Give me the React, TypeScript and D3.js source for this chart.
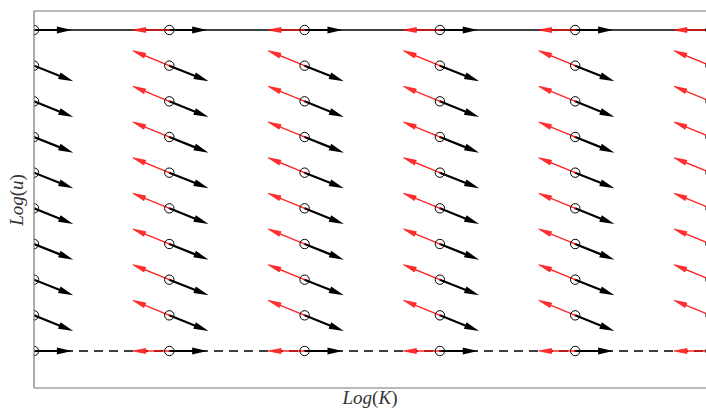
import { useMemo } from "react";
import * as d3 from "d3";

// grid of sample points (log K across, log u up)
const logK = [0, 1, 2, 3, 4, 5];
const logU = [0, 1, 2, 3, 4, 5, 6, 7, 8, 9];

// forward (black) and backward (red) vectors per row, in data units
const fwdU = [0.28, 0.29, 0.29, 0.29, 0.29, 0.29, 0.29, 0.29, 0.29, 0.28];
const fwdV = [0, -0.44, -0.44, -0.44, -0.44, -0.44, -0.44, -0.44, -0.44, 0];
const backU = [-0.27, -0.27, -0.27, -0.27, -0.27, -0.27, -0.27, -0.27, -0.27, -0.27];
const backV = [0, 0.42, 0.42, 0.42, 0.42, 0.42, 0.42, 0.42, 0.42, 0];

const W = 706;
const H = 410;
const margin = { top: 11, right: 0, bottom: 22, left: 34 };

function arrowPath(x0: number, y0: number, x1: number, y1: number, sw: number, hl: number, hw: number) {
  const dx = x1 - x0;
  const dy = y1 - y0;
  const len = Math.sqrt(dx * dx + dy * dy);
  const ux = dx / len;
  const uy = dy / len;
  const px = -uy;
  const py = ux;
  const bx = x1 - ux * hl;
  const by = y1 - uy * hl;
  const pts = [
    [x0 + px * sw / 2, y0 + py * sw / 2],
    [bx + px * sw / 2, by + py * sw / 2],
    [bx + px * hw / 2, by + py * hw / 2],
    [x1, y1],
    [bx - px * hw / 2, by - py * hw / 2],
    [bx - px * sw / 2, by - py * sw / 2],
    [x0 - px * sw / 2, y0 - py * sw / 2],
  ];
  return "M" + pts.map((p) => p[0].toFixed(2) + "," + p[1].toFixed(2)).join("L") + "Z";
}

export default function App() {
  const x = useMemo(() => d3.scaleLinear().domain([0, 5]).range([34, 710.5]), []);
  const y = useMemo(() => d3.scaleLinear().domain([0, 9]).range([351, 30]), []);

  const points = logK.flatMap((k) => logU.map((u, i) => ({ k, u, i })));
  const top = logU[logU.length - 1];
  const bottom = logU[0];

  const serif = "'Liberation Serif', 'DejaVu Serif', serif";

  return (
    <div style={{ position: "fixed", left: 0, top: 0 }}>
      <svg width={W} height={H} style={{ display: "block", background: "#fff" }}>
        <defs>
          <clipPath id="clip">
            <rect x={margin.left} y={margin.top} width={W - margin.left} height={H - margin.top - margin.bottom} />
          </clipPath>
        </defs>
        <g clipPath="url(#clip)">
          {/* trajectories along the edges */}
          <line x1={x(0)} x2={W} y1={y(top)} y2={y(top)} stroke="#000" strokeWidth={1.4} />
          <line x1={x(0)} x2={W} y1={y(bottom)} y2={y(bottom)} stroke="#000" strokeWidth={1.4} strokeDasharray="9,6" />
          {points.map((p, j) => (
            <path
              key={"r" + j}
              d={arrowPath(x(p.k), y(p.u), x(p.k + backU[p.i]), y(p.u + backV[p.i]), 0.6, 13, 5)}
              fill="#ff3030"
              stroke="#ff0000"
              strokeWidth={0.6}
            />
          ))}
          {points.map((p, j) => (
            <path
              key={"b" + j}
              d={arrowPath(x(p.k), y(p.u), x(p.k + fwdU[p.i]), y(p.u + fwdV[p.i]), 2.2, 15, 7)}
              fill="#000"
            />
          ))}
          {points.map((p, j) => (
            <g key={"c" + j}>
              <circle cx={x(p.k)} cy={y(p.u)} r={4.7} fill="none" stroke="#000" strokeWidth={1} />
              <circle cx={x(p.k)} cy={y(p.u)} r={0.9} fill="#c00000" />
            </g>
          ))}
        </g>
        {/* spines */}
        <line x1={margin.left} x2={W} y1={margin.top} y2={margin.top} stroke="#777" strokeWidth={1.2} />
        <line x1={margin.left} x2={W} y1={H - margin.bottom} y2={H - margin.bottom} stroke="#777" strokeWidth={1.2} />
        <line x1={margin.left} x2={margin.left} y1={margin.top} y2={H - margin.bottom} stroke="#777" strokeWidth={1.2} />
        {/* axis labels */}
        <text x={370} y={404} textAnchor="middle" fontFamily={serif} fontSize={19} fill="#333">
          <tspan fontStyle="italic">Log</tspan>
          <tspan>(</tspan>
          <tspan fontStyle="italic">K</tspan>
          <tspan>)</tspan>
        </text>
        <text transform="translate(23,200) rotate(-90)" textAnchor="middle" fontFamily={serif} fontSize={19} fill="#333">
          <tspan fontStyle="italic">Log</tspan>
          <tspan>(</tspan>
          <tspan fontStyle="italic">u</tspan>
          <tspan>)</tspan>
        </text>
      </svg>
    </div>
  );
}
